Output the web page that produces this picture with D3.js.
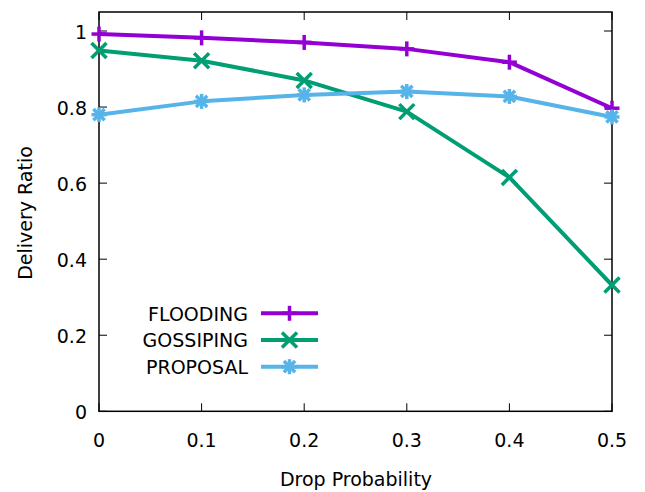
<!DOCTYPE html>
<html><head><meta charset="utf-8">
<script src="https://cdn.jsdelivr.net/npm/d3@7"></script>
<style>body{margin:0;background:#fff}text{font-family:Tahoma,"DejaVu Sans",sans-serif;fill:#000}</style>
</head><body><svg id="c" width="645" height="492"></svg>
<script>
const xValues = [0, 0.1, 0.2, 0.3, 0.4, 0.5];
const flooding = [0.992, 0.982, 0.970, 0.953, 0.918, 0.797];
const gossiping = [0.949, 0.922, 0.870, 0.788, 0.615, 0.332];
const proposal = [0.780, 0.815, 0.832, 0.841, 0.828, 0.774];
const seriesNames = ["FLOODING", "GOSSIPING", "PROPOSAL"];
const xTicks = [0, 0.1, 0.2, 0.3, 0.4, 0.5];
const yTicks = [0, 0.2, 0.4, 0.6, 0.8, 1];

const colors = ["#9400d3", "#009e73", "#56b4e9"];
const markers = ["plus", "cross", "star"];
const data = [flooding, gossiping, proposal];

const svg = d3.select("#c");
const L = 99, R = 612, T = 12, B = 411.3;
const FS = 19;
const x = d3.scaleLinear().domain([0, 0.5]).range([L, R]);
const y = d3.scaleLinear().domain([0, 1.05]).range([B, T]);
const fmt = d => d === 0 ? "0" : d === 1 ? "1" : d3.format(".1f")(d);

// ticks (inward, mirrored)
const tk = 8;
const g = svg.append("g").attr("stroke", "#000").attr("stroke-width", 1);
xTicks.forEach(t => {
  g.append("line").attr("x1", x(t)).attr("x2", x(t)).attr("y1", B).attr("y2", B - tk);
  g.append("line").attr("x1", x(t)).attr("x2", x(t)).attr("y1", T).attr("y2", T + tk);
});
yTicks.forEach(t => {
  g.append("line").attr("x1", L).attr("x2", L + tk).attr("y1", y(t)).attr("y2", y(t));
  g.append("line").attr("x1", R).attr("x2", R - tk).attr("y1", y(t)).attr("y2", y(t));
});
svg.append("rect").attr("x", L).attr("y", T).attr("width", R - L).attr("height", B - T)
  .attr("fill", "none").attr("stroke", "#000").attr("stroke-width", 1.5);

svg.selectAll(".xl").data(xTicks).enter().append("text")
  .attr("x", d => x(d)).attr("y", 447).attr("text-anchor", "middle").attr("font-size", FS).text(fmt);
svg.selectAll(".yl").data(yTicks).enter().append("text")
  .attr("x", 87).attr("y", d => y(d) + 8).attr("text-anchor", "end").attr("font-size", FS).text(fmt);

svg.append("text").attr("x", 356).attr("y", 486).attr("text-anchor", "middle").attr("font-size", FS).text("Drop Probability");
svg.append("text").attr("transform", "translate(32,213) rotate(-90)").attr("text-anchor", "middle").attr("font-size", FS).text("Delivery Ratio");

function marker(sel, type, cx, cy, color) {
  const s = 7.5;
  const gg = sel.append("g").attr("stroke", color).attr("stroke-width", 3.5).attr("fill", "none");
  if (type === "plus" || type === "star") {
    gg.append("line").attr("x1", cx - s).attr("x2", cx + s).attr("y1", cy).attr("y2", cy);
    gg.append("line").attr("x1", cx).attr("x2", cx).attr("y1", cy - s).attr("y2", cy + s);
  }
  if (type === "cross" || type === "star") {
    const k = type === "star" ? s * 0.75 : s;
    gg.append("line").attr("x1", cx - k).attr("x2", cx + k).attr("y1", cy - k).attr("y2", cy + k);
    gg.append("line").attr("x1", cx - k).attr("x2", cx + k).attr("y1", cy + k).attr("y2", cy - k);
  }
}

const line = d3.line().x((d, i) => x(xValues[i])).y(d => y(d));
data.forEach((vals, si) => {
  svg.append("path").attr("d", line(vals)).attr("fill", "none")
    .attr("stroke", colors[si]).attr("stroke-width", 4).attr("stroke-linejoin", "round");
  vals.forEach((v, i) => marker(svg, markers[si], x(xValues[i]), y(v), colors[si]));
});

// legend
seriesNames.forEach((n, i) => {
  const ly = 313.3 + i * 26.7;
  svg.append("text").attr("x", 248).attr("y", ly + 7.4).attr("text-anchor", "end").attr("font-size", FS).text(n);
  svg.append("line").attr("x1", 261).attr("x2", 318).attr("y1", ly).attr("y2", ly)
    .attr("stroke", colors[i]).attr("stroke-width", 4);
  marker(svg, markers[i], 289.5, ly, colors[i]);
});
</script></body></html>
